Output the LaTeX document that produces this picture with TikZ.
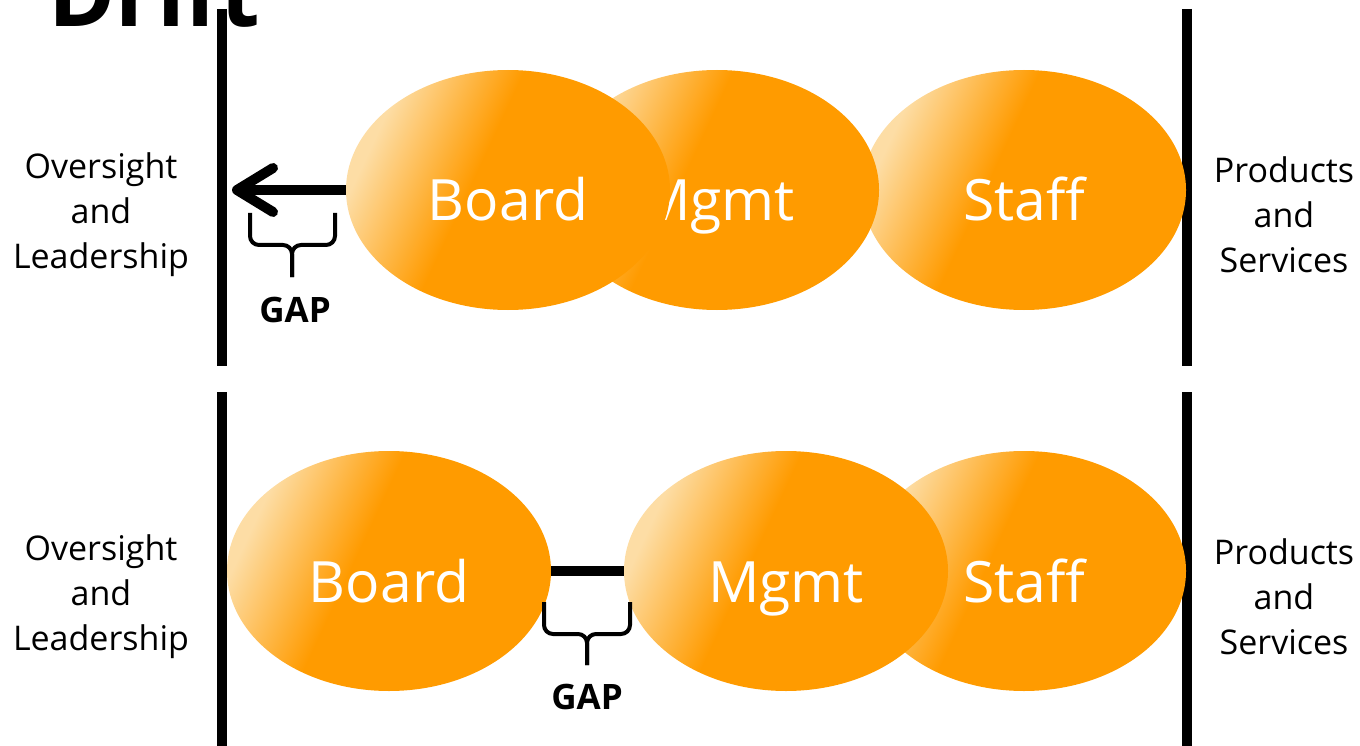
\documentclass[tikz,border=0pt]{standalone}
\usepackage{fontspec}
\setmainfont{Open Sans}
\usepackage{tikz}
\usetikzlibrary{shapes.geometric,arrows.meta,positioning,calc}

\definecolor{bubbleorange}{RGB}{255,155,0}
\definecolor{bubblelight}{RGB}{253,221,165}
\pgfdeclarehorizontalshading{bubbleshade}{100bp}{color(0bp)=(bubblelight); color(26bp)=(bubblelight); color(44bp)=(bubbleorange); color(100bp)=(bubbleorange)}

\tikzset{
  bubble/.style={ellipse, minimum width=324pt, minimum height=240pt, inner sep=0pt,
    shade, shading=bubbleshade, shading angle=-25, text=white,
    font=\fontsize{57}{60}\selectfont, text height=62pt, text depth=0pt},
  sidetext/.style={align=center, font=\fontsize{34}{45}\selectfont},
  gaptext/.style={font=\bfseries\fontsize{35}{40}\selectfont},
  titletext/.style={font=\bfseries\fontsize{91}{100}\selectfont},
  wall/.style={line width=10pt},
  gapline/.style={line width=10pt},
  gaparrow/.style={line width=10pt, -{Straight Barb[length=36pt,width=44pt,round]}},
  gapbrace/.style={line width=4pt, rounded corners=9pt},
}

\begin{document}
\begin{tikzpicture}[x=1pt, y=-1pt]
  \useasboundingbox (0,0) rectangle (1360,746);
  \clip (0,0) rectangle (1360,746);

  % Title (cut off at the top)
  \node[titletext, anchor=base] (drift) at (154,27) {Drift};

  % Walls
  \draw[wall] (222,9) -- (222,366);
  \draw[wall] (1187,9) -- (1187,366);
  \draw[wall] (222,392) -- (222,746);
  \draw[wall] (1187,392) -- (1187,746);

  % Top row
  \node[bubble] (tstaff) at (1024,190) {Staff};
  \node[bubble] (tmgmt) at (717,190) {Mgmt};
  \node[bubble] (tboard) at (508,190) {Board};
  \coordinate (tleft) at (232,190);
  \draw[gaparrow] (tboard.west) -- (tleft);
  \draw[gapbrace] (250,213) |- (292,245) -- (292,277);
  \draw[gapbrace] (335,213) |- (292,245) -- (292,277);
  \node[gaptext] (tgap) at (295,310) {GAP};
  \node[sidetext] (tlead) at (101,215) {Oversight\\and\\Leadership};
  \node[sidetext] (tprod) at (1284,215) {Products\\and\\Services};

  % Bottom row
  \node[bubble] (bstaff) at (1024,571) {Staff};
  \node[bubble] (bmgmt) at (786,571) {Mgmt};
  \node[bubble] (bboard) at (389,571) {Board};
  \draw[gapline] (bboard.east) -- (bmgmt.west);
  \draw[gapbrace] (544,602) |- (587,634) -- (587,665);
  \draw[gapbrace] (630,602) |- (587,634) -- (587,665);
  \node[gaptext] (bgap) at (587,697) {GAP};
  \node[sidetext] (blead) at (101,597) {Oversight\\and\\Leadership};
  \node[sidetext] (bprod) at (1284,597) {Products\\and\\Services};
\end{tikzpicture}
\end{document}
